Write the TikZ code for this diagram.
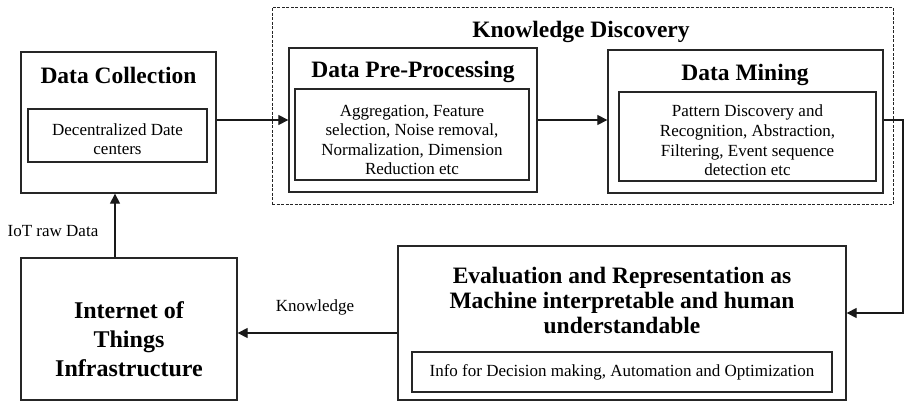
\documentclass[tikz,border=0pt]{standalone}
\usepackage{fontspec}
\setmainfont{Liberation Serif}
\usetikzlibrary{arrows.meta}

\tikzset{
  frame/.style={draw=black!85, line width=1.3pt, inner sep=0pt},
  innerframe/.style={draw=black!85, line width=1.2pt, inner sep=0pt},
  title/.style={font=\bfseries\fontsize{23.5}{25}\selectfont, align=center, inner sep=0pt},
  bigtitle/.style={font=\bfseries\fontsize{24}{29}\selectfont, align=center, inner sep=0pt},
  body/.style={font=\fontsize{17}{19.6}\selectfont, align=center, inner sep=0pt},
  flow/.style={draw=black!90, line width=1.2pt, -{Triangle[length=10pt,width=10pt]}},
  group/.style={draw=black!85, line width=1pt, dash pattern=on 3pt off 1.5pt}
}

\begin{document}
\begin{tikzpicture}[x=1pt, y=-1pt]
\useasboundingbox (0,0) rectangle (906,402);

% Knowledge discovery group
\node[group, minimum width=621pt, minimum height=197pt] (kd) at (582.5,105.5) {};
\node[title] (kdt) at (581,32) {Knowledge Discovery};

% Data collection
\node[frame, minimum width=195pt, minimum height=141pt] (dc) at (118.5,122.5) {};
\node[title] (dct) at (118.5,75) {Data Collection};
\node[innerframe, minimum width=179pt, minimum height=53pt] (dci) at (117.5,135.5) {};
\node[body] (dcx) at (117.5,139) {Decentralized Date\\centers};

% Data pre-processing
\node[frame, minimum width=248pt, minimum height=144pt] (pp) at (413,120) {};
\node[title] (ppt) at (413,72) {Data Pre-Processing};
\node[innerframe, minimum width=234pt, minimum height=91pt] (ppi) at (412,134.5) {};
\node[body] (ppx) at (412,140) {Aggregation, Feature\\selection, Noise removal,\\Normalization, Dimension\\Reduction etc};

% Data mining
\node[frame, minimum width=275pt, minimum height=143pt] (dm) at (745.5,121.5) {};
\node[title] (dmt) at (745,75) {Data Mining};
\node[innerframe, minimum width=257pt, minimum height=89pt] (dmi) at (747.5,136.5) {};
\node[body] (dmx) at (747.5,140.5) {Pattern Discovery and\\Recognition, Abstraction,\\Filtering, Event sequence\\detection etc};

% Evaluation and representation
\node[frame, minimum width=448pt, minimum height=154pt] (ev) at (622,323) {};
\node[title] (evt) at (622,300) {Evaluation and Representation as\\Machine interpretable and human\\understandable};
\node[innerframe, minimum width=420pt, minimum height=40pt] (evi) at (622,372) {};
\node[body] (evx) at (622,372) {Info for Decision making, Automation and Optimization};

% IoT infrastructure
\node[frame, minimum width=216pt, minimum height=142pt] (iot) at (129,329) {};
\node[bigtitle] (iott) at (129,339) {Internet of\\Things\\Infrastructure};

% Connectors
\coordinate (rt) at (903,313);
\draw[flow] (dc.east |- 0,120) -- (pp.west |- 0,120);
\draw[flow] (pp.east |- 0,120) -- (dm.west |- 0,120);
\draw[flow] (dm.east |- 0,120) -| (rt) -- (rt -| ev.east);
\draw[flow] ([yshift=-10pt]ev.west) -- ([yshift=-10pt]ev.west -| iot.east);
\draw[flow] ([xshift=-14pt]iot.north) -- ([xshift=-14pt]iot.north |- dc.south);

% Connector labels
\node[body] (lk) at (315,307) {Knowledge};
\node[body] (lraw) at (53,231) {IoT raw Data};
\end{tikzpicture}
\end{document}
